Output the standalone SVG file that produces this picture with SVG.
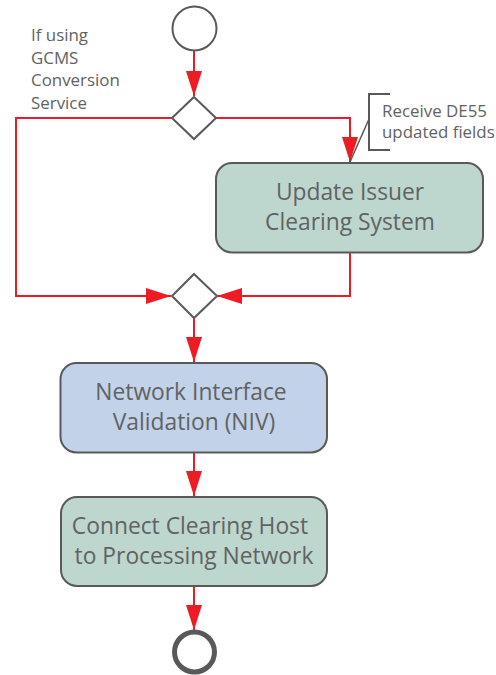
<svg xmlns="http://www.w3.org/2000/svg" width="496" height="675" viewBox="0 0 496 675">
<style>
.lbl{font-family:"Open Sans","DejaVu Sans",sans-serif;fill:#626262;}
.node{font-size:22.8px;text-anchor:middle;}
.small{font-size:16.9px;}
.ln{fill:none;stroke:#ed1c24;stroke-width:2;}
.shape{stroke:#595959;stroke-width:2;}
</style>
<defs>
<marker id="ah" markerUnits="userSpaceOnUse" markerWidth="26" markerHeight="16" refX="25" refY="8" orient="auto">
<path d="M0,0 L25,8 L0,16 z" fill="#ed1c24"/>
</marker>
</defs>
<rect width="496" height="675" fill="#ffffff"/>
<g id="connectors">
<path class="ln" d="M194,51 V96" marker-end="url(#ah)"/>
<path class="ln" d="M172,118 H16 V296 H171" marker-end="url(#ah)"/>
<path class="ln" d="M216,118 H350 V162" marker-end="url(#ah)"/>
<path class="ln" d="M350,253 V296 H217" marker-end="url(#ah)"/>
<path class="ln" d="M194,318 V362" marker-end="url(#ah)"/>
<path class="ln" d="M194,453 V496" marker-end="url(#ah)"/>
<path class="ln" d="M194,586 V630" marker-end="url(#ah)"/>
</g>
<g id="start">
<circle cx="194.5" cy="28.5" r="22" fill="#ffffff" class="shape"/>
</g>
<g id="guard-label">
<text class="lbl small" x="31" y="41">If using</text>
<text class="lbl small" x="31" y="63.5">GCMS</text>
<text class="lbl small" x="31" y="86">Conversion</text>
<text class="lbl small" x="31" y="108.5">Service</text>
</g>
<g id="decision1">
<path d="M194,97 L216,118 L194,139 L172,118 z" fill="#ffffff" class="shape"/>
</g>
<g id="note">
<path d="M390,94 H369 V150 H390" fill="none" stroke="#595959" stroke-width="2"/>
<path d="M369,119 L350,162" fill="none" stroke="#595959" stroke-width="1.5"/>
<text class="lbl small" x="382" y="117">Receive DE55</text>
<text class="lbl small" x="382" y="138">updated fields</text>
</g>
<g id="update-issuer">
<rect x="216" y="163" width="267" height="89.5" rx="16" fill="#bdd7ce" class="shape"/>
<text class="lbl node" x="350" y="200">Update Issuer</text>
<text class="lbl node" x="350" y="230">Clearing System</text>
</g>
<g id="merge">
<path d="M194,274 L217,296 L194,318 L172,296 z" fill="#ffffff" class="shape"/>
</g>
<g id="niv">
<rect x="60.5" y="363" width="266.5" height="89.5" rx="16" fill="#c1d2e9" class="shape"/>
<text class="lbl node" x="191" y="400">Network Interface</text>
<text class="lbl node" x="194" y="430">Validation (NIV)</text>
</g>
<g id="connect-host">
<rect x="61" y="497" width="266" height="89" rx="16" fill="#bdd7ce" class="shape"/>
<text class="lbl node" x="190" y="534">Connect Clearing Host</text>
<text class="lbl node" x="194" y="564">to Processing Network</text>
</g>
<g id="end">
<circle cx="194.5" cy="652" r="20" fill="#ffffff" stroke="#595959" stroke-width="5"/>
</g>
</svg>
